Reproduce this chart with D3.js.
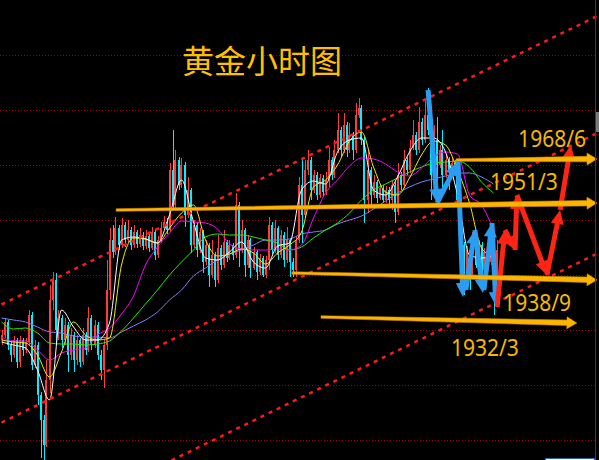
<!DOCTYPE html>
<html>
<head>
<meta charset="utf-8">
<script src="https://cdn.jsdelivr.net/npm/d3@7"></script>
<style>
  html, body { margin: 0; padding: 0; background: #000; }
  svg { display: block; }
</style>
</head>
<body>
<div id="viz"></div>
<script>
// hourly gold bars, index = bar number
const firstOpen = 1932;
const closes = [
  1933, 1935.6, 1931, 1929, 1932, 1927.6, 1932, 1930, 1931.6, 1937,
  1927, 1931, 1921, 1916, 1911, 1924, 1940, 1944, 1934, 1936.4,
  1932, 1935, 1929, 1933, 1928, 1932, 1927.6, 1933, 1930, 1936.4,
  1931, 1935, 1929, 1926, 1931, 1942, 1952, 1949.6, 1954.4, 1951,
  1955, 1952, 1954, 1951, 1953.6, 1951.2, 1953, 1950.8, 1952.8, 1950.4,
  1953.6, 1949, 1952, 1954.4, 1955.6, 1954, 1966, 1959, 1968, 1963,
  1967, 1957, 1962, 1951, 1955, 1950, 1953.6, 1947.6, 1951, 1945,
  1949, 1944, 1950.4, 1947, 1951.6, 1948.4, 1951, 1949, 1959, 1950,
  1954, 1947, 1952, 1946.4, 1949.6, 1945.6, 1948.4, 1945, 1948, 1955,
  1950, 1954.4, 1949, 1953, 1948, 1952, 1947.6, 1946, 1952, 1963,
  1957, 1966, 1968, 1962, 1965, 1961, 1964.4, 1961.6, 1964, 1968,
  1965, 1970, 1974, 1970, 1975, 1970, 1973, 1970, 1977, 1978.4,
  1972, 1960, 1966, 1961, 1963.6, 1960.4, 1962.4, 1960, 1962, 1960,
  1963, 1957.6, 1965, 1963, 1968, 1966, 1970.4, 1973, 1970, 1975.6,
  1972, 1977, 1974, 1965, 1972, 1967, 1970, 1965, 1968, 1966,
  1967.4, 1965.6, 1960, 1951, 1945, 1950, 1945, 1950, 1947, 1951,
  1946, 1949.6, 1947.6, 1951, 1945, 1950
];
const highs = [
  1934, 1936.4, 1936, 1931.6, 1932.8, 1932.4, 1932.8, 1932.4, 1932.4, 1938,
  1937.6, 1932, 1931.6, 1921.6, 1917, 1928, 1943, 1945.6, 1945.4, 1938,
  1937, 1936.4, 1935.6, 1934.4, 1933.6, 1933, 1932.4, 1934.4, 1933.6, 1938.6,
  1937, 1936, 1935.6, 1930, 1932, 1948, 1954.4, 1955, 1956.6, 1955,
  1956.4, 1955.6, 1956, 1954.6, 1955, 1954, 1954.4, 1953.6, 1954, 1953.4,
  1954.6, 1954, 1952.8, 1955.6, 1956.8, 1956.4, 1967.4, 1974, 1970, 1968.6,
  1968.4, 1967.6, 1964.6, 1962.4, 1956, 1955.6, 1954.4, 1954, 1952, 1951.4,
  1952, 1949.6, 1953, 1951, 1954, 1952, 1952, 1951.4, 1961.4, 1959.6,
  1956, 1954.4, 1953, 1952.4, 1950.6, 1950, 1949.2, 1948.8, 1948.8, 1956.6,
  1955.6, 1956, 1954.8, 1954, 1953.6, 1954.6, 1952.4, 1948.4, 1952.8, 1964.6,
  1968, 1968, 1970, 1968.6, 1966, 1965.6, 1965.2, 1965, 1965.6, 1970.6,
  1968.6, 1972, 1977.4, 1974.6, 1977.4, 1975.6, 1975.4, 1973.6, 1979.4, 1980.4,
  1979, 1972.6, 1970, 1966.6, 1965, 1964, 1963.2, 1963, 1962.8, 1962.6,
  1964, 1963.6, 1967.4, 1965.6, 1970, 1968.6, 1972, 1976, 1973.6, 1978.6,
  1976.4, 1980, 1982.4, 1974.6, 1975, 1976.6, 1971, 1974, 1969, 1968.6,
  1968.6, 1968, 1966, 1960.4, 1951.6, 1950.8, 1950.4, 1953.6, 1950.6, 1952,
  1951.6, 1950.4, 1950, 1954, 1951.6, 1952
];
const lows = [
  1931, 1932.4, 1930, 1927.6, 1928.4, 1926.4, 1926.6, 1928.8, 1929.4, 1931,
  1926, 1926.4, 1919, 1908.4, 1908, 1910.6, 1921.4, 1938, 1931.4, 1932,
  1930.4, 1931, 1925.6, 1928, 1925.6, 1927, 1926.6, 1927, 1929, 1929.6,
  1930, 1930.4, 1928, 1924, 1922.4, 1930, 1940, 1948.4, 1949, 1950,
  1950.4, 1950.6, 1951.4, 1950, 1950.4, 1950.4, 1950.6, 1950, 1950.2, 1949.6,
  1950, 1948, 1948.4, 1951.4, 1954, 1953.2, 1953.6, 1958, 1958.4, 1962,
  1962.4, 1954.6, 1956.4, 1949.4, 1950.4, 1948.6, 1949.4, 1945.4, 1947, 1942.6,
  1944.4, 1942.6, 1943.4, 1946, 1946.4, 1947.6, 1948, 1948, 1948.4, 1946.6,
  1949.4, 1944.6, 1946.4, 1944.4, 1946, 1944, 1945, 1944.6, 1944.4, 1946,
  1949.2, 1949.4, 1948, 1948.4, 1946.6, 1947.4, 1944.6, 1944.6, 1944.6, 1951.4,
  1951.4, 1956.4, 1965, 1960, 1961.4, 1960, 1960.4, 1960.8, 1961, 1962.6,
  1964, 1964.4, 1969.4, 1968.6, 1969.4, 1968.6, 1969.4, 1968, 1969.4, 1976.4,
  1971, 1955.4, 1957.4, 1959, 1960.4, 1959.4, 1960, 1959.4, 1959.4, 1959.2,
  1958, 1955.4, 1957, 1962, 1962.4, 1965, 1965.4, 1970, 1969, 1969.4,
  1971, 1971.4, 1973, 1960, 1964.4, 1960.6, 1966.4, 1962, 1964.4, 1962,
  1965.4, 1964.8, 1959, 1948, 1941, 1944.4, 1942, 1944.4, 1946.4, 1946.4,
  1943, 1945.4, 1947, 1947, 1937, 1944.4
];

// moving averages, one value every 4 bars
const maStep = 4;
const maWhite = [
  1931.6, 1931, 1930.4, 1926, 1920, 1938, 1934.6, 1932, 1932, 1935.4,
  1952, 1952.6, 1952.2, 1951.4, 1957, 1964, 1955.6, 1948.4, 1948, 1949.6,
  1951.6, 1947.6, 1946.4, 1950.8, 1951.4, 1962, 1963.8, 1963.2, 1969.6, 1972,
  1972.4, 1962, 1961, 1964.6, 1969.6, 1972.4, 1972.4, 1969.6, 1961, 1949,
  1948.4, 1948.8
];
const maYellow = [
  1932, 1931.6, 1931.4, 1929, 1924.6, 1929.6, 1935.6, 1933, 1932, 1932.4,
  1947, 1952.4, 1952.2, 1951.4, 1954.4, 1957.4, 1959, 1952, 1948.8, 1949.2,
  1950.2, 1949.4, 1947.2, 1949.4, 1951, 1953.6, 1962.6, 1964, 1967, 1971.8,
  1973.6, 1966.6, 1961.6, 1961, 1964.4, 1969, 1971.8, 1971, 1966, 1959.4,
  1950.4, 1948.6
];
const maMagenta = [
  1932.6, 1931.8, 1931.8, 1930, 1928, 1929.4, 1930, 1930.4, 1933, 1934.4,
  1937.2, 1940.8, 1947, 1950.6, 1953.4, 1955.8, 1955.6, 1955.4, 1954.2, 1951.2,
  1950.2, 1950, 1950, 1950.2, 1950, 1951, 1956.4, 1961.4, 1964, 1966.8,
  1968.4, 1968.2, 1967.2, 1965.6, 1964.8, 1966.4, 1968.6, 1969.6, 1969.2, 1961,
  1959, 1954
];
const maGreen = [
  1935.6, 1934.2, 1934.4, 1933.4, 1931.4, 1931.2, 1931.2, 1931, 1931.2, 1931.8,
  1933.8, 1936.4, 1939.2, 1942, 1945, 1947.6, 1950, 1952.6, 1953.2, 1953,
  1953, 1952.6, 1952, 1951.4, 1950, 1950.6, 1952.4, 1954, 1955.4, 1957.4,
  1960, 1962, 1963.2, 1964.4, 1965.6, 1966.6, 1967.4, 1967.6, 1967.8, 1966.6,
  1963.6, 1961.4
];
const maBlue = [
  1936.4, 1936, 1935.6, 1934.6, 1933.6, 1933.4, 1932.8, 1932.6, 1932.6, 1932.4,
  1933.6, 1934.8, 1936, 1937.6, 1940, 1942, 1944.8, 1946.4, 1948, 1949.2,
  1950, 1951, 1952, 1952, 1952.2, 1953.2, 1953.6, 1954, 1955.2, 1956,
  1956.8, 1958.2, 1959.8, 1961.4, 1962.6, 1963.6, 1964.2, 1964.8, 1965.4, 1965.4,
  1964.6, 1963.2
];

const gridPrices = [1989, 1978, 1967, 1956, 1945, 1934, 1923, 1912];

// trend channel: [bar, price] at both ends
const channelStart = [[0, 1939.1], [0, 1915.5], [0, 1891.4]];
const channelEnd = [[199, 1996.9], [199, 1973.5], [199, 1949.4]];

// gold level arrows
const levelFrom = [[38.2, 1958], [151.5, 1968], [96.8, 1945.4], [106.5, 1936.6]];
const levelTo = [[198.5, 1959.4], [198.5, 1968.2], [198.5, 1944], [191.8, 1935.4]];
const levelText = ['1968/6', '1951/3', '1938/9', '1932/3'];
const levelTextAt = [[172.2, 1970.6], [162.8, 1962], [167.2, 1937.8], [149.8, 1928.8]];

// hand-drawn swing arrows
const bluePts = [
  [[142.2, 1982], [145.2, 1959.4]],
  [[145.2, 1959.4], [152.2, 1967.6]],
  [[152.2, 1967.6], [153.8, 1940.6]],
  [[154.8, 1942], [157.8, 1954]],
  [[157.8, 1954], [160.5, 1941.4]],
  [[160.8, 1942], [163.5, 1955.4]],
  [[163.5, 1955.4], [164.8, 1938.8]]
];
const redPts = [
  [[165.2, 1938.6], [167.8, 1954]],
  [[167.8, 1954], [171.2, 1950]],
  [[171.2, 1950], [171.8, 1961]],
  [[171.8, 1961], [181.8, 1945]],
  [[181.8, 1945], [186.2, 1958]],
  [[186.2, 1958], [189.8, 1971]]
];

const title = '黄金小时图';

const width = 599;
const height = 460;

const svg = d3.select('#viz')
  .append('svg')
  .attr('width', width)
  .attr('height', height)
  .style('background', '#000');

const x = d3.scaleLinear().domain([0, 199]).range([1.5, 598.5]);
const y = d3.scaleLinear().domain([1908, 2000]).range([height, 0]);

const candles = closes.map((c, i) => {
  const open = i ? closes[i - 1] : firstOpen;
  return {
    i,
    open,
    close: c,
    high: Math.max(highs[i], open, c),
    low: Math.min(lows[i], open, c),
  };
});

function arrowPath(p1, p2, w0, w1, headLen, headHalf) {
  const [x1, y1] = p1;
  const [x2, y2] = p2;
  const len = Math.hypot(x2 - x1, y2 - y1);
  const ux = (x2 - x1) / len, uy = (y2 - y1) / len;
  const nx = -uy, ny = ux;
  const bx = x2 - ux * headLen, by = y2 - uy * headLen;
  const p = d3.path();
  p.moveTo(x1 + nx * w0 / 2, y1 + ny * w0 / 2);
  p.lineTo(bx + nx * w1 / 2, by + ny * w1 / 2);
  p.lineTo(bx + nx * headHalf, by + ny * headHalf);
  p.lineTo(x2, y2);
  p.lineTo(bx - nx * headHalf, by - ny * headHalf);
  p.lineTo(bx - nx * w1 / 2, by - ny * w1 / 2);
  p.lineTo(x1 - nx * w0 / 2, y1 - ny * w0 / 2);
  p.closePath();
  return p.toString();
}

const toPx = d => [x(d[0]), y(d[1])];

function drawGrid() {
  svg.append('g')
    .selectAll('line')
    .data(gridPrices)
    .join('line')
    .attr('x1', 0)
    .attr('x2', 595)
    .attr('y1', d => Math.round(y(d)) + 0.5)
    .attr('y2', d => Math.round(y(d)) + 0.5)
    .attr('stroke', '#a00000')
    .attr('stroke-width', 1)
    .attr('stroke-dasharray', '1,2');
}

function drawCandles() {
  const g = svg.append('g').attr('shape-rendering', 'crispEdges');
  const color = d => d.close >= d.open ? '#ff3b3b' : '#00f0ff';

  g.selectAll('.wick')
    .data(candles)
    .join('rect')
    .classed('wick', true)
    .attr('x', d => Math.round(x(d.i)))
    .attr('width', 1)
    .attr('y', d => y(d.high))
    .attr('height', d => y(d.low) - y(d.high))
    .attr('fill', color);

  g.selectAll('.body')
    .data(candles)
    .join('rect')
    .classed('body', true)
    .attr('x', d => Math.round(x(d.i)) - 1)
    .attr('width', 2)
    .attr('y', d => y(Math.max(d.open, d.close)))
    .attr('height', d => Math.max(1, Math.abs(y(d.open) - y(d.close))))
    .attr('fill', color);
}

function drawAverages() {
  const lines = [
    { values: maBlue, color: '#7f7fff' },
    { values: maGreen, color: '#22ee00' },
    { values: maMagenta, color: '#ff00ff' },
    { values: maYellow, color: '#f0f000' },
    { values: maWhite, color: '#ffffff' },
  ];
  const line = d3.line()
    .x((d, k) => x(k * maStep))
    .y(d => y(d))
    .curve(d3.curveMonotoneX);

  svg.append('g')
    .selectAll('path')
    .data(lines)
    .join('path')
    .attr('d', d => line(d.values))
    .attr('fill', 'none')
    .attr('stroke', d => d.color)
    .attr('stroke-width', 1);
}

function drawChannels() {
  svg.append('g')
    .selectAll('line')
    .data(channelStart.map((s, k) => [s, channelEnd[k]]))
    .join('line')
    .attr('x1', d => x(d[0][0]))
    .attr('y1', d => y(d[0][1]))
    .attr('x2', d => x(d[1][0]))
    .attr('y2', d => y(d[1][1]))
    .attr('stroke', '#ff1a1a')
    .attr('stroke-width', 2.5)
    .attr('stroke-dasharray', '4,5');
}

function drawSwings() {
  const g = svg.append('g');
  g.selectAll('.blue')
    .data(bluePts)
    .join('path')
    .classed('blue', true)
    .attr('d', d => arrowPath(toPx(d[0]), toPx(d[1]), 5, 5, 14, 6.5))
    .attr('fill', '#2a9cf2');

  g.selectAll('.red')
    .data(redPts)
    .join('path')
    .classed('red', true)
    .attr('d', d => arrowPath(toPx(d[0]), toPx(d[1]), 5, 5, 14, 6.5))
    .attr('fill', '#ff2414');
}

function drawLevels() {
  const g = svg.append('g');
  g.selectAll('path')
    .data(levelFrom.map((s, k) => [s, levelTo[k]]))
    .join('path')
    .attr('d', d => arrowPath(toPx(d[0]), toPx(d[1]), 2.5, 5.5, 10, 6))
    .attr('fill', '#ffb400')
    .attr('stroke', '#d08a00')
    .attr('stroke-width', 0.6);

  g.selectAll('text')
    .data(levelText)
    .join('text')
    .attr('x', (d, k) => x(levelTextAt[k][0]))
    .attr('y', (d, k) => y(levelTextAt[k][1]))
    .attr('textLength', 68)
    .attr('lengthAdjust', 'spacingAndGlyphs')
    .style('font-family', '"Noto Sans", "DejaVu Sans", sans-serif')
    .style('font-size', '23px')
    .attr('fill', '#f5b800')
    .text(d => d);
}

function drawFrame() {
  svg.append('text')
    .attr('x', 182)
    .attr('y', 73)
    .style('font-family', '"Noto Sans CJK SC", sans-serif')
    .style('font-size', '32px')
    .attr('fill', '#ffbf00')
    .text(title);

  svg.append('line')
    .attr('x1', 595.5).attr('x2', 595.5)
    .attr('y1', 0).attr('y2', height)
    .attr('stroke', '#cc0000')
    .attr('stroke-width', 1);

  svg.append('rect')
    .attr('x', 596).attr('y', 112)
    .attr('width', 3).attr('height', 20)
    .attr('fill', '#7a7a7a');

  svg.append('rect')
    .attr('x', 545.5).attr('y', 458.5)
    .attr('width', 49).attr('height', 6)
    .attr('fill', '#ffffff')
    .attr('stroke', '#2b5fc0');
}

drawGrid();
drawCandles();
drawAverages();
drawChannels();
drawSwings();
drawLevels();
drawFrame();
</script>
</body>
</html>
